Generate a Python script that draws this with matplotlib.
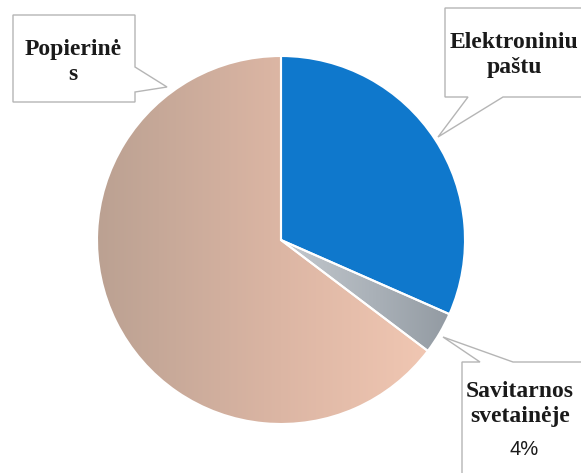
import numpy as np
import matplotlib.pyplot as plt
from matplotlib.patches import Polygon
from matplotlib.colors import LinearSegmentedColormap

# data
labels = ["Elektroniniu\npaštu", "Savitarnos\nsvetainėje", "Popierinė\ns"]
shares = [31.6, 3.7, 64.7]
pct_label = "4%"
colors = ["#0f78cc", "#a4acb4", "#e6bba5"]

W, H = 581, 473
fig = plt.figure(figsize=(W / 100, H / 100), dpi=100)


def px(x, y):
    # pixel coords (from top-left) -> figure fraction
    return (x / W, 1 - y / H)


# pie centred at (281, 240) px, radius 184 px
cx, cy, r = 281, 240, 184
ax = fig.add_axes([(cx - r) / W, (H - cy - r) / H, 2 * r / W, 2 * r / H])
wedges, _ = ax.pie(shares, colors=colors, startangle=90, counterclock=False,
                   wedgeprops=dict(edgecolor="white", linewidth=1.5))

# shading like the scanned original
grad = np.linspace(0, 1, 256)
pink = LinearSegmentedColormap.from_list("pink", ["#bba192", "#dcb6a4", "#f6cbb6"])
im = ax.imshow(grad[None, :], cmap=pink, extent=[-1, 1, -1, 1], aspect="auto", zorder=1)
im.set_clip_path(wedges[2])
grey = LinearSegmentedColormap.from_list("grey", ["#c4c9ce", "#aab1b8", "#8e969e"])
im2 = ax.imshow(grad[None, :], cmap=grey, extent=[0, 1, -0.7, 0], aspect="auto", zorder=1)
im2.set_clip_path(wedges[1])
for w in wedges:
    w.set_zorder(2)
wedges[1].set_facecolor("none")
wedges[2].set_facecolor("none")
ax.set_xlim(-1, 1)
ax.set_ylim(-1, 1)
ax.axis("off")


def callout(points, text_xy, text):
    poly = Polygon([px(*p) for p in points], closed=True, transform=fig.transFigure,
                   facecolor="white", edgecolor="#b5b5b5", linewidth=1.0, zorder=5)
    fig.patches.append(poly)
    fig.text(*px(*text_xy), text, ha="center", va="center", fontsize=17,
             fontfamily="Liberation Serif", fontweight="bold", color="#1a1a1a",
             linespacing=1.2, zorder=6)


# Popierinės box with tail to the right
callout([(13, 15), (135, 15), (135, 67), (167, 87), (135, 92), (135, 102), (13, 102)],
        (73, 62), labels[2])

# Elektroniniu paštu box with tail down-left
callout([(445, 8), (590, 8), (590, 97), (503, 97), (438, 137), (468, 97), (445, 97)],
        (514, 55), labels[0])

# Savitarnos box with tail up-left
callout([(462, 362), (480, 362), (443, 337), (513, 362), (590, 362), (590, 480), (462, 480)],
        (520, 404), labels[1])
fig.text(*px(524, 449), pct_label, ha="center", va="center", fontsize=14.5,
         fontfamily="Liberation Sans", color="#1a1a1a", zorder=6)

fig.savefig("out.png", dpi=100)
